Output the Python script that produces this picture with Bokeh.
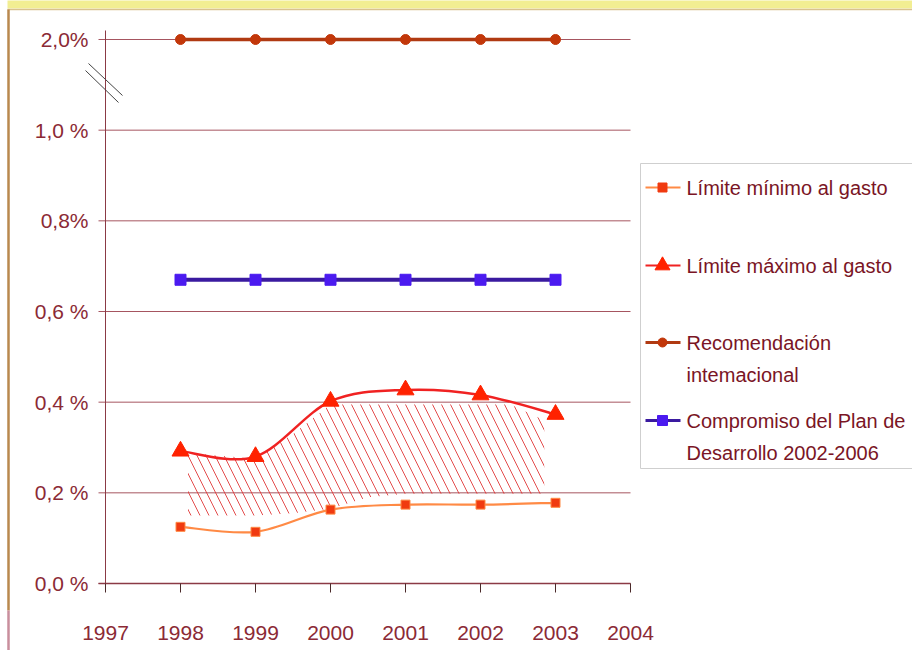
from bokeh.plotting import figure
from bokeh.models import Range1d
from bokeh.core.properties import value
from bokeh.embed import file_html
from bokeh.resources import INLINE

# ---------------- data ----------------
years = [1998, 1999, 2000, 2001, 2002, 2003]
limite_minimo = [0.125, 0.114, 0.163, 0.174, 0.174, 0.178]
limite_maximo = [0.292, 0.280, 0.402, 0.427, 0.416, 0.373]
recomendacion = [2.0, 2.0, 2.0, 2.0, 2.0, 2.0]
compromiso = [0.67, 0.67, 0.67, 0.67, 0.67, 0.67]

# hand-drawn hatched band between the limits
hatch_x = [1998.1, 1999.0, 1999.5, 2000.0, 2000.5, 2001.0, 2002.4, 2002.85]
hatch_top = [0.288, 0.275, 0.330, 0.395, 0.395, 0.395, 0.395, 0.360]
hatch_bottom = [0.150, 0.150, 0.155, 0.165, 0.190, 0.198, 0.198, 0.198]

x_ticks = [1997, 1998, 1999, 2000, 2001, 2002, 2003, 2004]
x_tick_labels = ["1997", "1998", "1999", "2000", "2001", "2002", "2003", "2004"]
y_ticks = [0.0, 0.2, 0.4, 0.6, 0.8, 1.0, 2.0]
y_tick_labels = ["0,0 %", "0,2 %", "0,4 %", "0,6 %", "0,8%", "1,0 %", "2,0%"]

legend_labels = ["Límite mínimo al gasto", "Límite máximo al gasto",
                 "Recomendación\nintemacional",
                 "Compromiso del Plan de\nDesarrollo 2002-2006"]

# ---------------- styling ----------------
FONT = "Liberation Sans Narrow, Arial Narrow, Liberation Sans"
TICK_COLOR = "#8B2A35"
GRID_COLOR = "#A65560"
AXIS_COLOR = "#8B3A45"
LEG_TEXT = "#7A1525"

C_MIN_LINE, C_MIN_MARK = "#FF8A45", "#F03A10"
C_MAX_LINE, C_MAX_MARK = "#F02222", "#FF2200"
C_REC_LINE, C_REC_MARK = "#B03A12", "#C2370A"
C_COM_LINE, C_COM_MARK = "#3A1AA0", "#4B1AF0"

W, H = 912, 650
AX_X0, AX_Y0 = 105, 583          # pixel position of the origin (1997, 0 %)
PX_YEAR = 75.0                    # pixels per year
PX_UNIT = 544 / 1.2               # pixels per 1 % on the y axis


def X(px):
    """canvas pixel -> x data"""
    return x_ticks[0] + (px - AX_X0) / PX_YEAR


def Y(py):
    """canvas pixel -> y data"""
    return (AX_Y0 - py) / PX_UNIT


def axis_y(v):
    # broken axis: everything above 1 % is compressed (2 % sits one step above 1 %)
    return v if v <= 1.0 else 1.0 + (v - 1.0) * 0.2


def smooth(p, xs, ys, **kw):
    n = len(xs)
    x0, y0, x1, y1, cx0, cy0, cx1, cy1 = [], [], [], [], [], [], [], []
    for i in range(n - 1):
        a = i - 1 if i > 0 else i
        b = i + 2 if i + 2 < n else i + 1
        x0.append(xs[i]); y0.append(ys[i])
        x1.append(xs[i + 1]); y1.append(ys[i + 1])
        cx0.append(xs[i] + (xs[i + 1] - xs[a]) / 6.0)
        cy0.append(ys[i] + (ys[i + 1] - ys[a]) / 6.0)
        cx1.append(xs[i + 1] - (xs[b] - xs[i]) / 6.0)
        cy1.append(ys[i + 1] - (ys[b] - ys[i]) / 6.0)
    p.bezier(x0=x0, y0=y0, x1=x1, y1=y1, cx0=cx0, cy0=cy0, cx1=cx1, cy1=cy1, **kw)


p = figure(width=W, height=H, output_backend="svg", toolbar_location=None,
           x_range=Range1d(X(0), X(W)), y_range=Range1d(Y(H), Y(0)),
           x_axis_location=None, y_axis_location=None, min_border=0)
p.outline_line_color = None
p.background_fill_color = "white"
p.border_fill_color = "white"
p.grid.grid_line_color = None

# slide frame decoration (yellow band on top, brown rule at left)
p.quad(left=[X(7)], right=[X(W + 5)], top=[Y(-2)], bottom=[Y(8)],
       fill_color="#F2EE92", line_color=None)
p.segment(x0=[X(7)], x1=[X(W + 5)], y0=[Y(9)], y1=[Y(9)], line_color="#D9C28E", line_width=1.5)
p.segment(x0=[X(8), X(8)], x1=[X(8), X(8)], y0=[Y(9), Y(610)], y1=[Y(610), Y(H + 5)],
          line_color=["#B9884E", "#C98E9C"], line_width=2.5)

grid_y = [axis_y(v) for v in y_ticks]
n_y = len(grid_y)

# horizontal gridlines (start a few pixels left of the y axis, like ticks)
p.segment(x0=[X(AX_X0 - 7)] * n_y, x1=[x_ticks[-1]] * n_y, y0=grid_y, y1=grid_y,
          line_color=GRID_COLOR, line_width=1)
# y axis line
p.segment(x0=[x_ticks[0]], x1=[x_ticks[0]], y0=[0], y1=[Y(30)],
          line_color=AXIS_COLOR, line_width=1)
# x axis line and ticks
p.segment(x0=[X(AX_X0 - 7)], x1=[x_ticks[-1]], y0=[0], y1=[0], line_color=AXIS_COLOR, line_width=1.3)
p.segment(x0=x_ticks, x1=x_ticks, y0=[0] * len(x_ticks), y1=[Y(AX_Y0 + 9)] * len(x_ticks),
          line_color="#4a2a2a", line_width=1)
# tick labels
p.text(x=[X(AX_X0 - 17)] * n_y, y=grid_y, text=y_tick_labels,
       text_font=value(FONT), text_font_size="21px", text_color=TICK_COLOR,
       text_align="right", text_baseline="middle")
p.text(x=x_ticks, y=[Y(632)] * len(x_ticks), text=x_tick_labels,
       text_font=value(FONT), text_font_size="21px", text_color=TICK_COLOR,
       text_align="center", text_baseline="middle")

# hatched band
p.varea(x=hatch_x, y1=hatch_bottom, y2=hatch_top, fill_alpha=0,
        hatch_pattern="\\", hatch_color="#E03A3A", hatch_scale=18, hatch_weight=1,
        hatch_alpha=0.9)

# series
rec_y = [axis_y(v) for v in recomendacion]
p.line(years, rec_y, line_color=C_REC_LINE, line_width=3.5)
p.scatter(years, rec_y, marker="circle", size=10, fill_color=C_REC_MARK, line_color=C_REC_MARK)

p.line(years, compromiso, line_color=C_COM_LINE, line_width=4)
p.scatter(years, compromiso, marker="square", size=11, fill_color=C_COM_MARK, line_color=C_COM_MARK)

smooth(p, years, limite_maximo, line_color=C_MAX_LINE, line_width=2.5)
p.scatter(years, limite_maximo, marker="triangle", size=17, fill_color=C_MAX_MARK, line_color=C_MAX_MARK)

smooth(p, years, limite_minimo, line_color=C_MIN_LINE, line_width=2.2)
p.scatter(years, limite_minimo, marker="square", size=9, fill_color=C_MIN_MARK, line_color=C_MIN_LINE)

# axis break marks (two parallel strokes across the y axis)
p.segment(x0=[X(88), X(85)], y0=[Y(63), Y(70)], x1=[X(122), X(118)], y1=[Y(95), Y(102)],
          line_color="#444444", line_width=1)

# ---------------- legend ----------------
p.quad(left=[X(640)], right=[X(960)], top=[Y(163)], bottom=[Y(468)], fill_color="white",
       line_color="#CFCFCF", line_width=1)

entry_py = [187, 265, 342, 420]
swatches = [
    (C_MIN_LINE, C_MIN_MARK, "square", 9, 2),
    (C_MAX_LINE, C_MAX_MARK, "triangle", 15, 2),
    (C_REC_LINE, C_REC_MARK, "circle", 9, 3),
    (C_COM_LINE, C_COM_MARK, "square", 10, 3),
]
tx, ty, tt = [], [], []
for py, lab, (lc, mc, mk, sz, lw) in zip(entry_py, legend_labels, swatches):
    p.segment(x0=[X(645)], x1=[X(680)], y0=[Y(py)], y1=[Y(py)], line_color=lc, line_width=lw)
    p.scatter([X(662)], [Y(py)], marker=mk, size=sz, fill_color=mc, line_color=mc)
    for k, line in enumerate(lab.split("\n")):
        tx.append(X(686))
        ty.append(Y(py + 32 * k))
        tt.append(line)
p.text(x=tx, y=ty, text=tt, text_font=value(FONT), text_font_size="20px",
       text_color=LEG_TEXT, text_baseline="middle", text_align="left")

open("out.html", "w").write(file_html(p, INLINE))
